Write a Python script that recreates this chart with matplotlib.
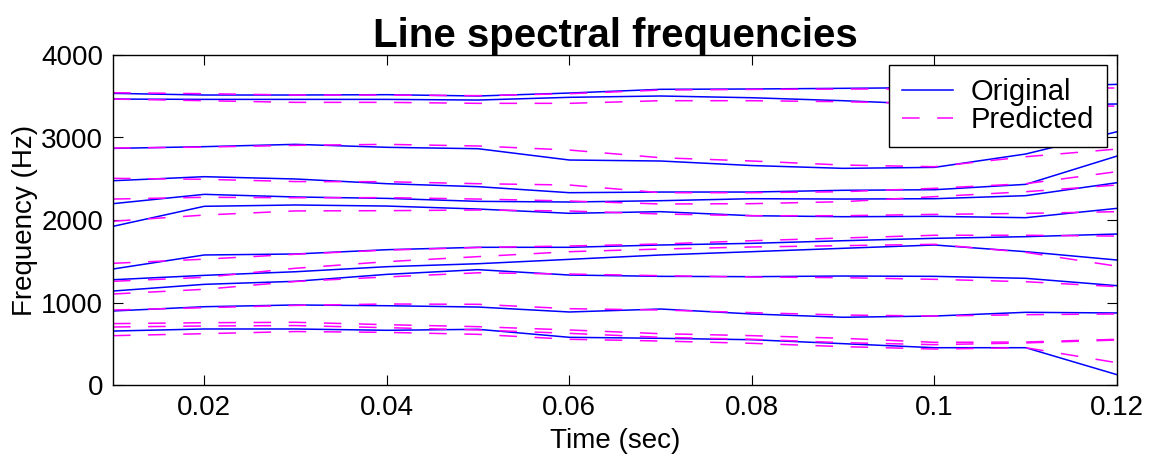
import numpy as np
import matplotlib
matplotlib.use("Agg")
import matplotlib.pyplot as plt

plt.rcParams['font.family'] = ['Liberation Sans', 'DejaVu Sans']

# frame times (sec)
t = [0.01, 0.02, 0.03, 0.04, 0.05, 0.06, 0.07, 0.08, 0.09, 0.10, 0.11, 0.12]

# original line spectral frequencies (Hz), one list per track
orig_1 = [3535, 3515, 3515, 3519, 3503, 3539, 3584, 3588, 3596, 3605, 3615, 3644]
orig_2 = [3466, 3462, 3462, 3462, 3454, 3487, 3503, 3482, 3446, 3400, 3395, 3406]
orig_3 = [2868, 2889, 2917, 2881, 2864, 2727, 2715, 2660, 2626, 2638, 2800, 3070]
orig_4 = [2476, 2525, 2497, 2440, 2404, 2331, 2339, 2339, 2360, 2367, 2432, 2775]
orig_5 = [2198, 2311, 2279, 2262, 2226, 2218, 2234, 2258, 2254, 2258, 2295, 2452]
orig_6 = [1923, 2166, 2182, 2169, 2133, 2081, 2101, 2052, 2040, 2044, 2028, 2141]
orig_7 = [1406, 1576, 1588, 1640, 1669, 1669, 1697, 1717, 1749, 1778, 1798, 1830]
orig_8 = [1276, 1329, 1373, 1434, 1470, 1523, 1576, 1616, 1657, 1697, 1616, 1515]
orig_9 = [1139, 1220, 1257, 1341, 1398, 1333, 1317, 1313, 1321, 1317, 1293, 1204]
orig_10 = [897, 949, 970, 961, 945, 885, 921, 861, 821, 836, 881, 873]
orig_11 = [654, 679, 679, 663, 675, 578, 566, 549, 501, 452, 452, 125]

# predicted tracks (Hz)
pred_1 = [3543, 3531, 3515, 3515, 3507, 3531, 3575, 3583, 3587, 3590, 3595, 3600]
pred_2 = [3466, 3446, 3426, 3426, 3414, 3414, 3446, 3446, 3434, 3410, 3390, 3380]
pred_3 = [2872, 2884, 2905, 2917, 2897, 2848, 2755, 2715, 2666, 2646, 2767, 2860]
pred_4 = [2505, 2493, 2466, 2464, 2440, 2424, 2331, 2331, 2343, 2384, 2440, 2586]
pred_5 = [2254, 2275, 2270, 2271, 2254, 2230, 2194, 2198, 2222, 2283, 2343, 2424]
pred_6 = [1985, 2060, 2110, 2113, 2121, 2109, 2073, 2052, 2052, 2068, 2080, 2101]
pred_7 = [1475, 1525, 1585, 1635, 1667, 1685, 1709, 1749, 1782, 1815, 1815, 1805]
pred_8 = [1257, 1305, 1415, 1495, 1556, 1616, 1648, 1673, 1689, 1705, 1608, 1440]
pred_9 = [1103, 1160, 1255, 1310, 1360, 1345, 1325, 1309, 1301, 1281, 1252, 1192]
pred_10 = [909, 937, 965, 982, 978, 925, 909, 877, 848, 836, 852, 861]
pred_11 = [744, 755, 760, 731, 707, 667, 622, 598, 566, 517, 521, 554]
pred_12 = [703, 715, 720, 695, 667, 626, 578, 554, 513, 489, 510, 545]
pred_13 = [598, 622, 648, 638, 614, 554, 533, 505, 465, 436, 452, 270]

originals = [orig_1, orig_2, orig_3, orig_4, orig_5, orig_6, orig_7,
             orig_8, orig_9, orig_10, orig_11]
predicted = [pred_1, pred_2, pred_3, pred_4, pred_5, pred_6, pred_7,
             pred_8, pred_9, pred_10, pred_11, pred_12, pred_13]

fig = plt.figure(figsize=(11.54, 4.65), dpi=100)
ax = fig.add_axes([113 / 1154, 1 - 385 / 465, (1117 - 113) / 1154, (385 - 55) / 465])

for i, y in enumerate(originals):
    ax.plot(t, y, color=(0, 0, 1), lw=1.1, label='Original' if i == 0 else None)
for i, y in enumerate(predicted):
    ax.plot(t, y, color=(1, 0, 1), lw=1.1, dashes=(11.5, 11.5),
            label='Predicted' if i == 0 else None)

ax.set_xlim(0.01, 0.12)
ax.set_ylim(0, 4000)
ax.set_xticks([0.02, 0.04, 0.06, 0.08, 0.10, 0.12])
ax.set_xticklabels(['0.02', '0.04', '0.06', '0.08', '0.1', '0.12'])
ax.set_yticks([0, 1000, 2000, 3000, 4000])
ax.tick_params(direction='in', length=7, width=0.8, top=True, right=True,
               labelsize=20, pad=7)
for s in ax.spines.values():
    s.set_linewidth(1.0)

ax.set_title('Line spectral frequencies', fontsize=29, fontweight='bold', pad=6)
ax.set_xlabel('Time (sec)', fontsize=20, labelpad=5)
ax.set_ylabel('Frequency (Hz)', fontsize=20, labelpad=2)

leg = ax.legend(loc='upper right', fontsize=21, frameon=True, fancybox=False,
                borderaxespad=0.35, handlelength=1.75, handletextpad=0.6,
                labelspacing=0.0, borderpad=0.45)
leg.get_frame().set_edgecolor('black')
leg.get_frame().set_linewidth(1.0)
leg.get_frame().set_alpha(1)

fig.savefig('out.png', dpi=100)
